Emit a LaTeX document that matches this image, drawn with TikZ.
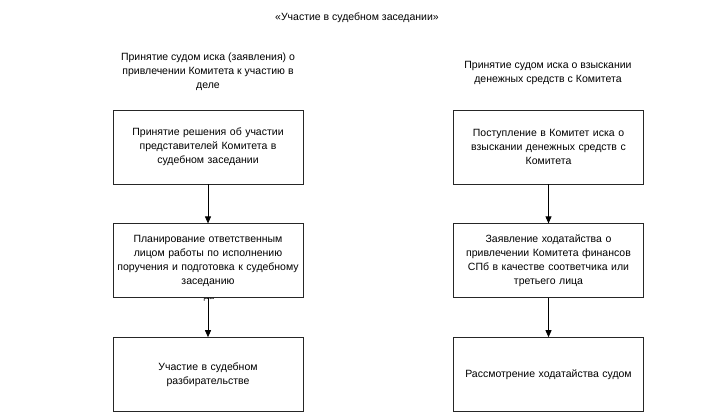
\documentclass[tikz,border=0pt]{standalone}
\usepackage{fontspec}
\setmainfont{Liberation Sans}
\usetikzlibrary{positioning,arrows.meta}

\begin{document}
\begin{tikzpicture}[
  x=1pt, y=-1pt,
  node distance=39pt,
  stepbox/.style={draw=black!85, fill=white, line width=0.8pt,
                  minimum width=190pt, minimum height=74pt, text width=186pt,
                  align=center, inner sep=2pt,
                  font=\fontsize{10.5}{14}\selectfont},
  head/.style={align=center, font=\fontsize{10.5}{14}\selectfont},
  arr/.style={-{Triangle[length=7pt,width=6pt]}, line width=0.8pt}
]
  \useasboundingbox (0,0) rectangle (719,412);

  \node[head] (title) at (357,18) {«Участие в судебном заседании»};
  \node[head] (hl) at (208,72) {Принятие судом иска (заявления) о\\привлечении Комитета к участию в\\деле};
  \node[head] (hr) at (548,72.5) {Принятие судом иска о взыскании\\денежных средств с Комитета};

  % left column
  \node[font=\fontsize{9}{10}\selectfont] (da) at (209,298) {да};
  \node[stepbox] (L1) at (208,147) {Принятие решения об участии\\представителей Комитета в\\судебном заседании};
  \node[stepbox, below=of L1] (L2) {Планирование ответственным\\лицом работы по исполнению\\поручения и подготовка к судебному\\заседанию};
  \node[stepbox, below=of L2] (L3) {Участие в судебном\\разбирательстве};

  % right column
  \node[stepbox] (R1) at (548.5,147) {Поступление в Комитет иска о\\взыскании денежных средств с\\Комитета};
  \node[stepbox, below=of R1] (R2) {Заявление ходатайства о\\привлечении Комитета финансов\\СПб в качестве соответчика или\\третьего лица};
  \node[stepbox, below=of R2] (R3) {Рассмотрение ходатайства судом};

  \draw[arr] (L1) -- (L2);
  \draw[arr] (L2) -- (L3);
  \draw[arr] (R1) -- (R2);
  \draw[arr] (R2) -- (R3);
\end{tikzpicture}
\end{document}
